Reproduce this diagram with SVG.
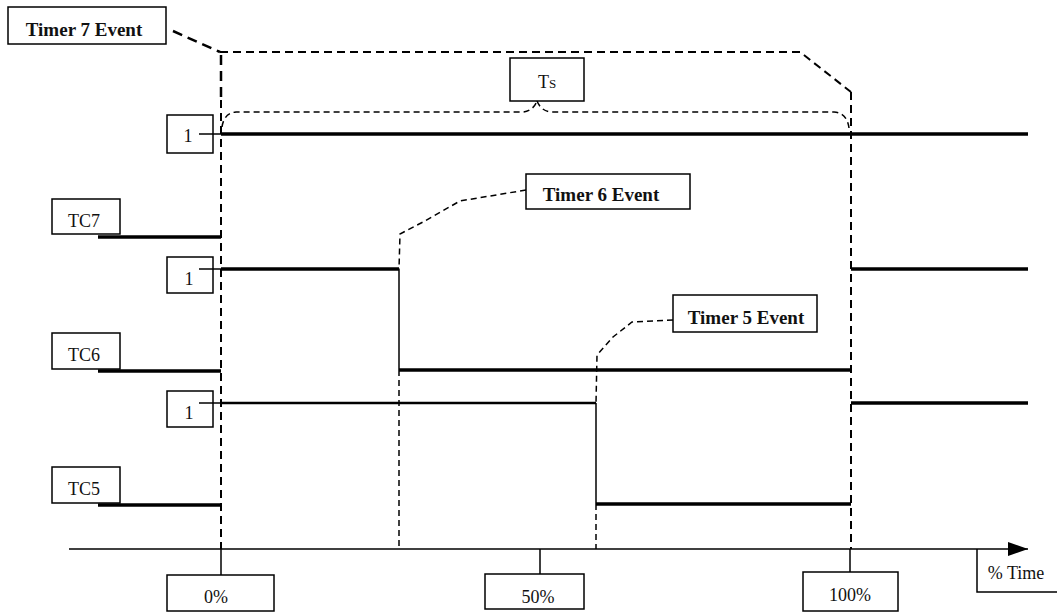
<svg xmlns="http://www.w3.org/2000/svg" width="1057" height="612" viewBox="0 0 1057 612">
<style>
.box{fill:#fff;stroke:#000;stroke-width:1.5}
.t{font-family:"Liberation Serif",serif;font-size:18px;fill:#111;text-anchor:middle}
.b{font-weight:bold;font-size:19px}
.sig{stroke:#000;stroke-width:3.5;fill:none}
.thin{stroke:#000;stroke-width:1.5;fill:none}
.d1{stroke:#000;stroke-width:2;fill:none;stroke-dasharray:8 5}
.d2{stroke:#000;stroke-width:1.5;fill:none;stroke-dasharray:6 4}
.d3{stroke:#000;stroke-width:2.5;fill:none;stroke-dasharray:10 6}
</style>
<defs>
<marker id="arr" markerWidth="20" markerHeight="14" refX="20" refY="7" orient="auto" markerUnits="userSpaceOnUse">
<path d="M0,0 L20,7 L0,14 Z" fill="#000"/>
</marker>
</defs>
<rect width="1057" height="612" fill="#fff"/>
<g id="connectors">
<line x1="69" y1="549" x2="1028" y2="549" class="thin" marker-end="url(#arr)"/>
<line x1="221" y1="549" x2="221" y2="575" class="thin"/>
<line x1="540" y1="549" x2="540" y2="574" class="thin"/>
<line x1="850" y1="549" x2="850" y2="572" class="thin"/>
<path d="M173,31 L220,52" class="d3"/>
<path d="M220,52 L800,52 L851,92" class="d1"/>
<path d="M221,55 L221,100" class="d3"/>
<path d="M221,100 L221,549" class="d1"/>
<path d="M851,92 L851,549" class="d1"/>
<path d="M222,127 Q224,113 236,112 L523,112 Q533,111 537,101" class="d2"/>
<path d="M537,101 Q541,111 551,112 L834,112 Q847,113 849,128" class="d2"/>
<path d="M526,190 L460,201 L423,222 L400,234 L399,269" class="d2"/>
<path d="M399,370 L399,549" class="d2"/>
<path d="M673,320 L632,322 L613,337 L597,355 L596,403" class="d2"/>
<path d="M596,504 L596,549" class="d2"/>
<line x1="199" y1="134" x2="221" y2="134" class="thin"/>
<line x1="221" y1="134" x2="1028" y2="134" class="sig"/>
<line x1="98" y1="237" x2="221" y2="237" class="sig"/>
<line x1="199" y1="269" x2="221" y2="269" class="thin"/>
<line x1="221" y1="269" x2="399" y2="269" class="sig"/>
<line x1="399" y1="269" x2="399" y2="370" class="thin"/>
<line x1="399" y1="370" x2="851" y2="370" class="sig"/>
<line x1="851" y1="269" x2="1028" y2="269" class="sig"/>
<line x1="98" y1="371" x2="221" y2="371" class="sig"/>
<line x1="199" y1="403" x2="221" y2="403" class="thin"/>
<line x1="221" y1="403" x2="596" y2="403" class="thin" style="stroke-width:2.5"/>
<line x1="596" y1="403" x2="596" y2="504" class="thin"/>
<line x1="596" y1="504" x2="851" y2="504" class="sig"/>
<line x1="851" y1="403" x2="1028" y2="403" class="sig"/>
<line x1="98" y1="505" x2="221" y2="505" class="sig"/>
</g>
<g id="timer7"><rect x="8" y="7" width="158" height="37" class="box"/><text x="84" y="36" class="t b">Timer 7 Event</text></g>
<g id="ts"><rect x="510" y="58" width="74" height="43" class="box"/><text x="547" y="88" class="t" style="font-size:18px">T<tspan font-size="13">S</tspan></text></g>
<g id="one1"><rect x="167" y="115" width="46" height="38" class="box"/><text x="188" y="142" class="t">1</text></g>
<line x1="199" y1="134" x2="213" y2="134" class="thin"/>
<g id="tc7"><rect x="52" y="199" width="68" height="35" class="box"/><text x="84" y="227" class="t">TC7</text></g>
<g id="one2"><rect x="167" y="257" width="46" height="36" class="box"/><text x="189" y="285" class="t">1</text></g>
<line x1="199" y1="269" x2="213" y2="269" class="thin"/>
<g id="timer6"><rect x="526" y="174" width="164" height="35" class="box"/><text x="601" y="201" class="t b">Timer 6 Event</text></g>
<g id="timer5"><rect x="673" y="295" width="144" height="37" class="box"/><text x="746" y="324" class="t b">Timer 5 Event</text></g>
<g id="tc6"><rect x="52" y="333" width="68" height="36" class="box"/><text x="84" y="361" class="t">TC6</text></g>
<g id="one3"><rect x="167" y="391" width="46" height="36" class="box"/><text x="189" y="419" class="t">1</text></g>
<line x1="199" y1="403" x2="213" y2="403" class="thin"/>
<g id="tc5"><rect x="52" y="467" width="68" height="36" class="box"/><text x="84" y="495" class="t">TC5</text></g>
<g id="p0"><rect x="167" y="575" width="107" height="36" class="box"/><text x="216" y="603" class="t">0%</text></g>
<g id="p50"><rect x="485" y="574" width="99" height="35" class="box"/><text x="538" y="603" class="t">50%</text></g>
<g id="p100"><rect x="803" y="572" width="95" height="39" class="box"/><text x="850" y="601" class="t">100%</text></g>
<g id="time"><path d="M977,549 L977,592 L1060,592" class="thin"/><text x="1016" y="579" class="t">% Time</text></g>
</svg>
